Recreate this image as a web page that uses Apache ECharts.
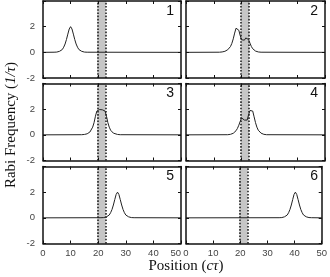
<!DOCTYPE html>
<html><head><meta charset="utf-8">
<script src="https://cdn.jsdelivr.net/npm/echarts@6/dist/echarts.min.js"></script>
<style>html,body{margin:0;padding:0;background:#fff}#c{width:330px;height:277px}</style>
</head><body><div id="c"></div>
<script>
// ---- data ----
const xTickLabels = [0, 10, 20, 30, 40, 50];
const yTickLabels = [-2, 0, 2];
const panelLabels = ['1', '2', '3', '4', '5', '6'];
const band = [19.7, 22.7];
const panel1 = [[0,0],[4,0.01],[5,0.02],[6,0.08],[7,0.22],[7.5,0.4],[8,0.65],[8.5,1.0],[9,1.42],[9.5,1.82],[10,2.0],[10.5,1.82],[11,1.42],[11.5,1.0],[12,0.65],[12.5,0.4],[13,0.22],[14,0.08],[15,0.02],[16,0.01],[50,0]];
const panel2 = [[0,0],[12,0.01],[13,0.03],[14,0.08],[15,0.2],[15.5,0.3],[16,0.45],[16.5,0.7],[17,1.05],[17.5,1.5],[18,1.88],[18.5,1.97],[19,1.72],[19.5,1.3],[20,0.98],[20.5,0.86],[21,0.95],[21.5,1.12],[22,1.18],[22.5,1.0],[23,0.72],[23.5,0.46],[24,0.28],[25,0.1],[26,0.03],[27,0.01],[50,0]];
const panel3 = [[0,0],[14,0.01],[15,0.03],[16,0.08],[16.5,0.13],[17,0.22],[17.5,0.36],[18,0.6],[18.5,0.95],[19,1.45],[19.5,1.85],[20,2.0],[20.5,1.97],[21,1.9],[21.5,1.95],[22,2.0],[22.5,1.85],[23,1.45],[23.5,0.95],[24,0.6],[24.5,0.36],[25,0.22],[25.5,0.13],[26,0.08],[27,0.03],[28,0.01],[50,0]];
const panel4 = [[0,0],[15,0.01],[16,0.04],[17,0.12],[17.5,0.2],[18,0.32],[18.5,0.5],[19,0.75],[19.5,1.05],[20,1.32],[20.5,1.36],[21,1.15],[21.5,1.0],[22,1.15],[22.5,1.55],[23,1.9],[23.5,2.0],[24,1.85],[24.5,1.4],[25,0.95],[25.5,0.6],[26,0.36],[26.5,0.22],[27,0.13],[28,0.04],[29,0.01],[50,0]];
const panel5 = [[0,0],[21,0.01],[22,0.02],[23,0.08],[24,0.22],[24.5,0.4],[25,0.65],[25.5,1.0],[26,1.42],[26.5,1.82],[27,2.0],[27.5,1.82],[28,1.42],[28.5,1.0],[29,0.65],[29.5,0.4],[30,0.22],[31,0.08],[32,0.02],[33,0.01],[50,0]];
const panel6 = [[0,0],[34.3,0.01],[35.3,0.02],[36.3,0.08],[37.3,0.22],[37.8,0.4],[38.3,0.65],[38.8,1.0],[39.3,1.42],[39.8,1.82],[40.3,2.0],[40.8,1.82],[41.3,1.42],[41.8,1.0],[42.3,0.65],[42.8,0.4],[43.3,0.22],[44.3,0.08],[45.3,0.02],[46.3,0.01],[50,0]];
const panels = [panel1, panel2, panel3, panel4, panel5, panel6];

// ---- layout ----
const colLeft = [43, 186], colWidth = [138, 139];
const rowTop = [1, 83.5, 166.5], rowH = 77;

const chart = echarts.init(document.getElementById('c'), null, {renderer: 'canvas'});
const grids = [], xAxes = [], yAxes = [], series = [], graphics = [];
const frame = {show: true, onZero: false, lineStyle: {color: '#111', width: 1.5}};
const tick = {show: true, inside: true, length: 3, lineStyle: {color: '#111', width: 1}};
panels.forEach((data, i) => {
  const col = i % 2, row = Math.floor(i / 2);
  grids.push({left: colLeft[col], top: rowTop[row], width: colWidth[col], height: rowH, containLabel: false});
  const xBase = {gridIndex: i, type: 'value', min: 0, max: 50, interval: 10, splitLine: {show: false}, axisLine: frame, axisTick: tick, z: 10};
  xAxes.push(Object.assign({}, xBase, {position: 'bottom',
    axisLabel: {show: row === 2, fontSize: 9.5, color: '#444', margin: 5, fontFamily: 'Liberation Sans',
      alignMaxLabel: col === 0 ? 'right' : null,
      formatter: v => xTickLabels.includes(v) ? String(v) : ''}}));
  xAxes.push(Object.assign({}, xBase, {position: 'top', axisLabel: {show: false}}));
  const yBase = {gridIndex: i, type: 'value', min: -2, max: 4, interval: 2, splitLine: {show: false}, axisLine: frame, axisTick: tick, z: 10};
  yAxes.push(Object.assign({}, yBase, {position: 'left',
    axisLabel: {show: col === 0, fontSize: 9.5, color: '#444', margin: 8, fontFamily: 'Liberation Sans',
      formatter: v => yTickLabels.includes(v) ? String(v) : ''}}));
  yAxes.push(Object.assign({}, yBase, {position: 'right', axisLabel: {show: false}}));
  series.push({type: 'line', xAxisIndex: 2 * i, yAxisIndex: 2 * i, data: data, showSymbol: false, symbol: 'none',
    lineStyle: {color: '#222', width: 1}, z: 3,
    markArea: {silent: true, itemStyle: {color: '#c6c6c6'}, data: [[{xAxis: band[0]}, {xAxis: band[1]}]]},
    markLine: {silent: true, symbol: 'none', label: {show: false},
      lineStyle: {color: '#222', width: 1.6, type: [1.6, 1.6]},
      data: [{xAxis: band[0]}, {xAxis: band[1]}]}});
  graphics.push({type: 'text', right: 330 - (colLeft[col] + colWidth[col]) + 7, top: rowTop[row] + 3,
    style: {text: panelLabels[i], fontSize: 14, fill: '#111', fontFamily: 'Liberation Sans'}});
});
graphics.push({type: 'text', x: 11, y: 125, rotation: Math.PI / 2,
  style: {text: '{r|Rabi Frequency (}{i|1/τ}{r|)}', align: 'center', verticalAlign: 'middle',
    rich: {r: {fontSize: 15, fontFamily: 'Liberation Serif', fill: '#111'}, i: {fontSize: 15, fontFamily: 'Liberation Serif', fontStyle: 'italic', fill: '#111'}}}});
graphics.push({type: 'text', x: 186, y: 266,
  style: {text: '{r|Position (}{i|cτ}{r|)}', align: 'center', verticalAlign: 'middle',
    rich: {r: {fontSize: 15, fontFamily: 'Liberation Serif', fill: '#111'}, i: {fontSize: 15, fontFamily: 'Liberation Serif', fontStyle: 'italic', fill: '#111'}}}});

chart.setOption({animation: false, grid: grids, xAxis: xAxes, yAxis: yAxes, series: series, graphic: graphics});
</script></body></html>
